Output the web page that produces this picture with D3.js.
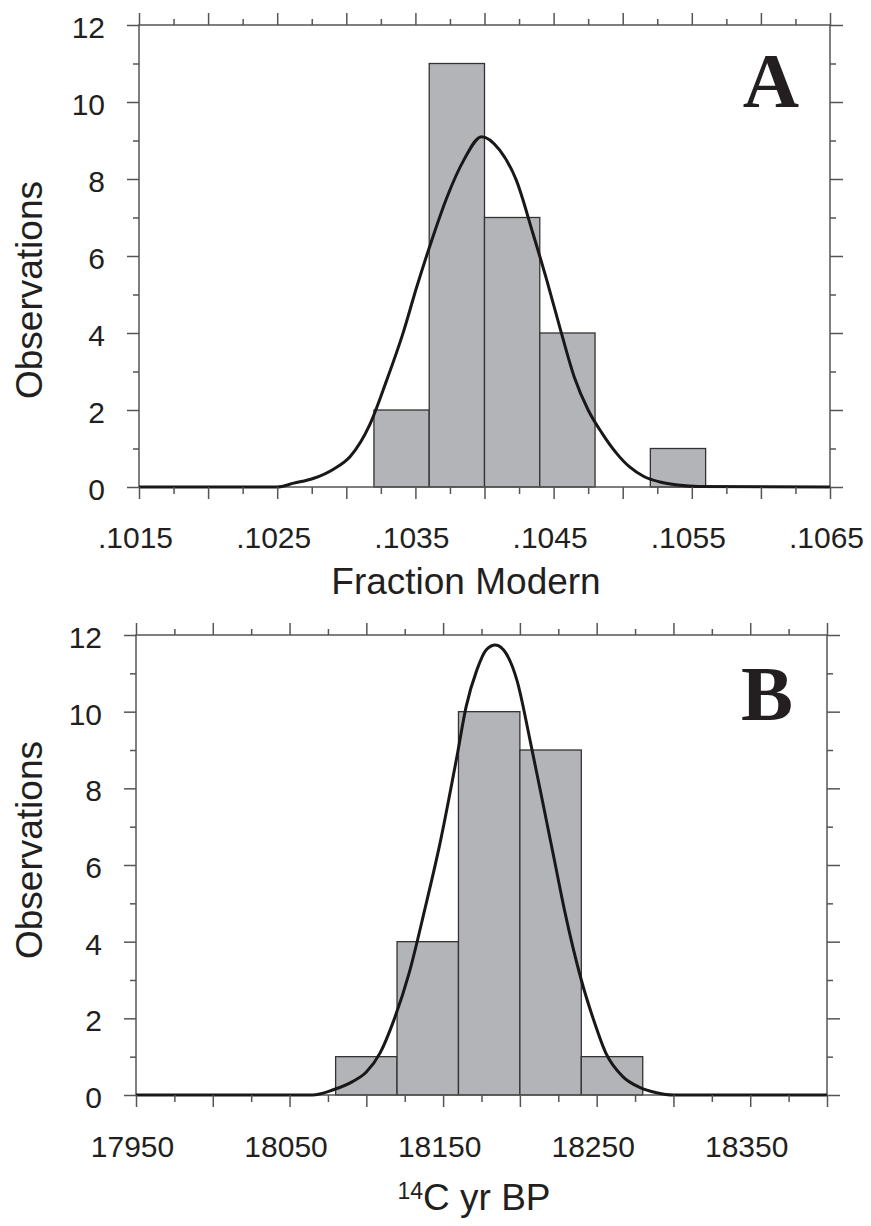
<!DOCTYPE html>
<head>
  <meta charset="utf-8">
  <script src="https://d3js.org/d3.v7.min.js"></script>
  <style>
    body { margin:0; background:#fff; }
    .tick text { font-family: "Liberation Sans", Arial, Helvetica, sans-serif; font-size: 30px; fill: #231f20; }
    .tick line { stroke: #555; stroke-width: 1.5px; }
    .frame { fill: none; stroke: #555; stroke-width: 1.5px; }
    .bar { fill: #b3b4b8; stroke: #333; stroke-width: 1.3px; }
    .fit { fill: none; stroke: #1a1718; stroke-width: 3px; }
    .title { font-family: "Liberation Sans", Arial, Helvetica, sans-serif; font-size: 37px; fill: #231f20; }
    .panel { font-family: "Liberation Serif", "Times New Roman", serif; font-weight: bold; font-size: 78px; fill: #231f20; }
  </style>
</head>

<body>
  <script>
    // panel A: fraction modern
    var aEdges = [.1032, .1036, .1040, .1044, .1048, .1052, .1056];
    var aCounts = [2, 11, 7, 4, 0, 1];
    var aCurve = [
      [.1015, 0], [.1025, 0], [.10262, 0.1], [.10276, 0.22], [.10291, 0.47], [.10303, 0.8],
      [.10317, 1.62], [.10329, 2.75], [.10341, 3.99], [.10351, 5.2], [.10361, 6.32], [.10373, 7.54],
      [.10385, 8.49], [.10398, 9.10], [.10411, 8.75], [.10423, 7.97], [.10435, 6.59],
      [.10445, 5.38], [.10455, 4.08], [.10465, 2.85], [.10475, 2.0], [.10485, 1.4],
      [.10495, 0.9], [.10505, 0.52], [.10515, 0.28], [.10527, 0.13], [.10540, 0.05],
      [.10555, 0.01], [.1065, 0]
    ];
    var aMajor = [.1015, .1020, .1025, .1030, .1035, .1040, .1045, .1050, .1055, .1060, .1065];
    var aLabels = [.1015, .1025, .1035, .1045, .1055, .1065];

    // panel B: 14C yr BP
    var bEdges = [18080, 18120, 18160, 18200, 18240, 18280];
    var bCounts = [1, 4, 10, 9, 1];
    var bCurve = [
      [17950, 0], [18065, 0], [18078, 0.13], [18091, 0.35], [18100, 0.6], [18109, 1.1],
      [18118, 1.96], [18128, 3.2], [18138, 4.83], [18148, 6.57],
      [18159, 8.83], [18165, 10.13], [18172, 11.09], [18178, 11.61], [18184, 11.74],
      [18191, 11.52], [18198, 10.83], [18207, 9.18], [18215, 7.61], [18222, 6.22],
      [18229, 4.83], [18240, 3.0], [18248, 1.96], [18256, 1.09], [18267, 0.48],
      [18278, 0.2], [18289, 0.06], [18300, 0], [18400, 0]
    ];
    var bMajor = [17950, 18000, 18050, 18100, 18150, 18200, 18250, 18300, 18350, 18400];
    var bLabels = [17950, 18050, 18150, 18250, 18350];

    var yMajor = [0, 2, 4, 6, 8, 10, 12];
    var yMinor = [1, 3, 5, 7, 9, 11];

    var svg = d3.select("body").append("svg")
      .attr("width", 871)
      .attr("height", 1226);

    function panel(opt) {
      var x = d3.scaleLinear().domain(opt.domain).range([opt.left, opt.right]);
      var y = d3.scaleLinear().domain([0, 12]).range([opt.bottom, opt.top]);
      var g = svg.append("g");

      // minor x positions between the majors
      var xMinor = [];
      for (var i = 0; i < opt.major.length - 1; i++) xMinor.push((opt.major[i] + opt.major[i + 1]) / 2);

      var bins = opt.counts.map(function(c, i) { return { x0: opt.edges[i], x1: opt.edges[i + 1], n: c }; })
        .filter(function(d) { return d.n > 0; });

      g.selectAll(".bar")
        .data(bins)
      .enter().append("rect")
        .attr("class", "bar")
        .attr("x", function(d) { return x(d.x0); })
        .attr("y", function(d) { return y(d.n); })
        .attr("width", function(d) { return x(d.x1) - x(d.x0); })
        .attr("height", function(d) { return y(0) - y(d.n); });

      g.append("rect")
        .attr("class", "frame")
        .attr("x", opt.left)
        .attr("y", opt.top)
        .attr("width", opt.right - opt.left)
        .attr("height", opt.bottom - opt.top);

      var line = d3.line()
        .curve(d3.curveMonotoneX)
        .x(function(d) { return x(d[0]); })
        .y(function(d) { return y(d[1]); });

      g.append("path")
        .datum(opt.curve)
        .attr("class", "fit")
        .attr("d", line);

      function noDomain(s) { s.select(".domain").remove(); }

      // bottom axis, labels only on every other major
      g.append("g")
        .attr("transform", "translate(0," + opt.bottom + ")")
        .call(d3.axisBottom(x).tickValues(opt.major).tickSize(12).tickFormat(function(d) {
          return opt.labels.some(function(l) { return Math.abs(l - d) < 1e-9; }) ? opt.fmt(d) : "";
        }))
        .call(noDomain)
        .selectAll("text")
          .attr("y", opt.labelY)
          .attr("dy", 0)
          .attr("dx", -4);
      g.append("g")
        .attr("transform", "translate(0," + opt.bottom + ")")
        .call(d3.axisBottom(x).tickValues(xMinor).tickSize(7).tickFormat(""))
        .call(noDomain);

      // top axis
      g.append("g")
        .attr("transform", "translate(0," + opt.top + ")")
        .call(d3.axisTop(x).tickValues(opt.major).tickSize(12).tickFormat(""))
        .call(noDomain);
      g.append("g")
        .attr("transform", "translate(0," + opt.top + ")")
        .call(d3.axisTop(x).tickValues(xMinor).tickSize(6).tickFormat(""))
        .call(noDomain);

      // left axis
      g.append("g")
        .attr("transform", "translate(" + opt.left + ",0)")
        .call(d3.axisLeft(y).tickValues(yMajor).tickSize(12).tickPadding(22).tickFormat(d3.format("d")))
        .call(noDomain)
        .selectAll("text")
          .attr("dy", "0.42em");
      g.append("g")
        .attr("transform", "translate(" + opt.left + ",0)")
        .call(d3.axisLeft(y).tickValues(yMinor).tickSize(6).tickFormat(""))
        .call(noDomain);

      // right axis
      g.append("g")
        .attr("transform", "translate(" + opt.right + ",0)")
        .call(d3.axisRight(y).tickValues(yMajor).tickSize(13).tickFormat(""))
        .call(noDomain);
      g.append("g")
        .attr("transform", "translate(" + opt.right + ",0)")
        .call(d3.axisRight(y).tickValues(yMinor).tickSize(6).tickFormat(""))
        .call(noDomain);

      g.append("text")
        .attr("class", "title")
        .attr("transform", "translate(42," + opt.yTitleY + ") rotate(-90)")
        .attr("text-anchor", "middle")
        .text("Observations");

      g.append("text")
        .attr("class", "panel")
        .attr("x", opt.letterX)
        .attr("y", opt.letterY)
        .attr("text-anchor", "middle")
        .text(opt.letter);

      return g;
    }

    var gA = panel({
      domain: [.1015, .1065], left: 139, right: 830, top: 25, bottom: 487,
      edges: aEdges, counts: aCounts, curve: aCurve, major: aMajor, labels: aLabels,
      fmt: function(d) { return d3.format(".4f")(d).replace(/^0/, ""); },
      labelY: 61, yTitleY: 290, letter: "A", letterX: 771, letterY: 107
    });
    gA.append("text")
      .attr("class", "title")
      .attr("x", 466)
      .attr("y", 594)
      .attr("text-anchor", "middle")
      .text("Fraction Modern");

    var gB = panel({
      domain: [17950, 18400], left: 136, right: 827, top: 635, bottom: 1095,
      edges: bEdges, counts: bCounts, curve: bCurve, major: bMajor, labels: bLabels,
      fmt: d3.format("d"),
      labelY: 62, yTitleY: 850, letter: "B", letterX: 767, letterY: 720
    });
    var t = gB.append("text")
      .attr("class", "title")
      .attr("x", 474)
      .attr("y", 1210)
      .attr("text-anchor", "middle");
    t.append("tspan")
      .attr("font-size", "23px")
      .attr("dy", "-11")
      .text("14");
    t.append("tspan")
      .attr("dy", "11")
      .text("C yr BP");
  </script>
</body>
